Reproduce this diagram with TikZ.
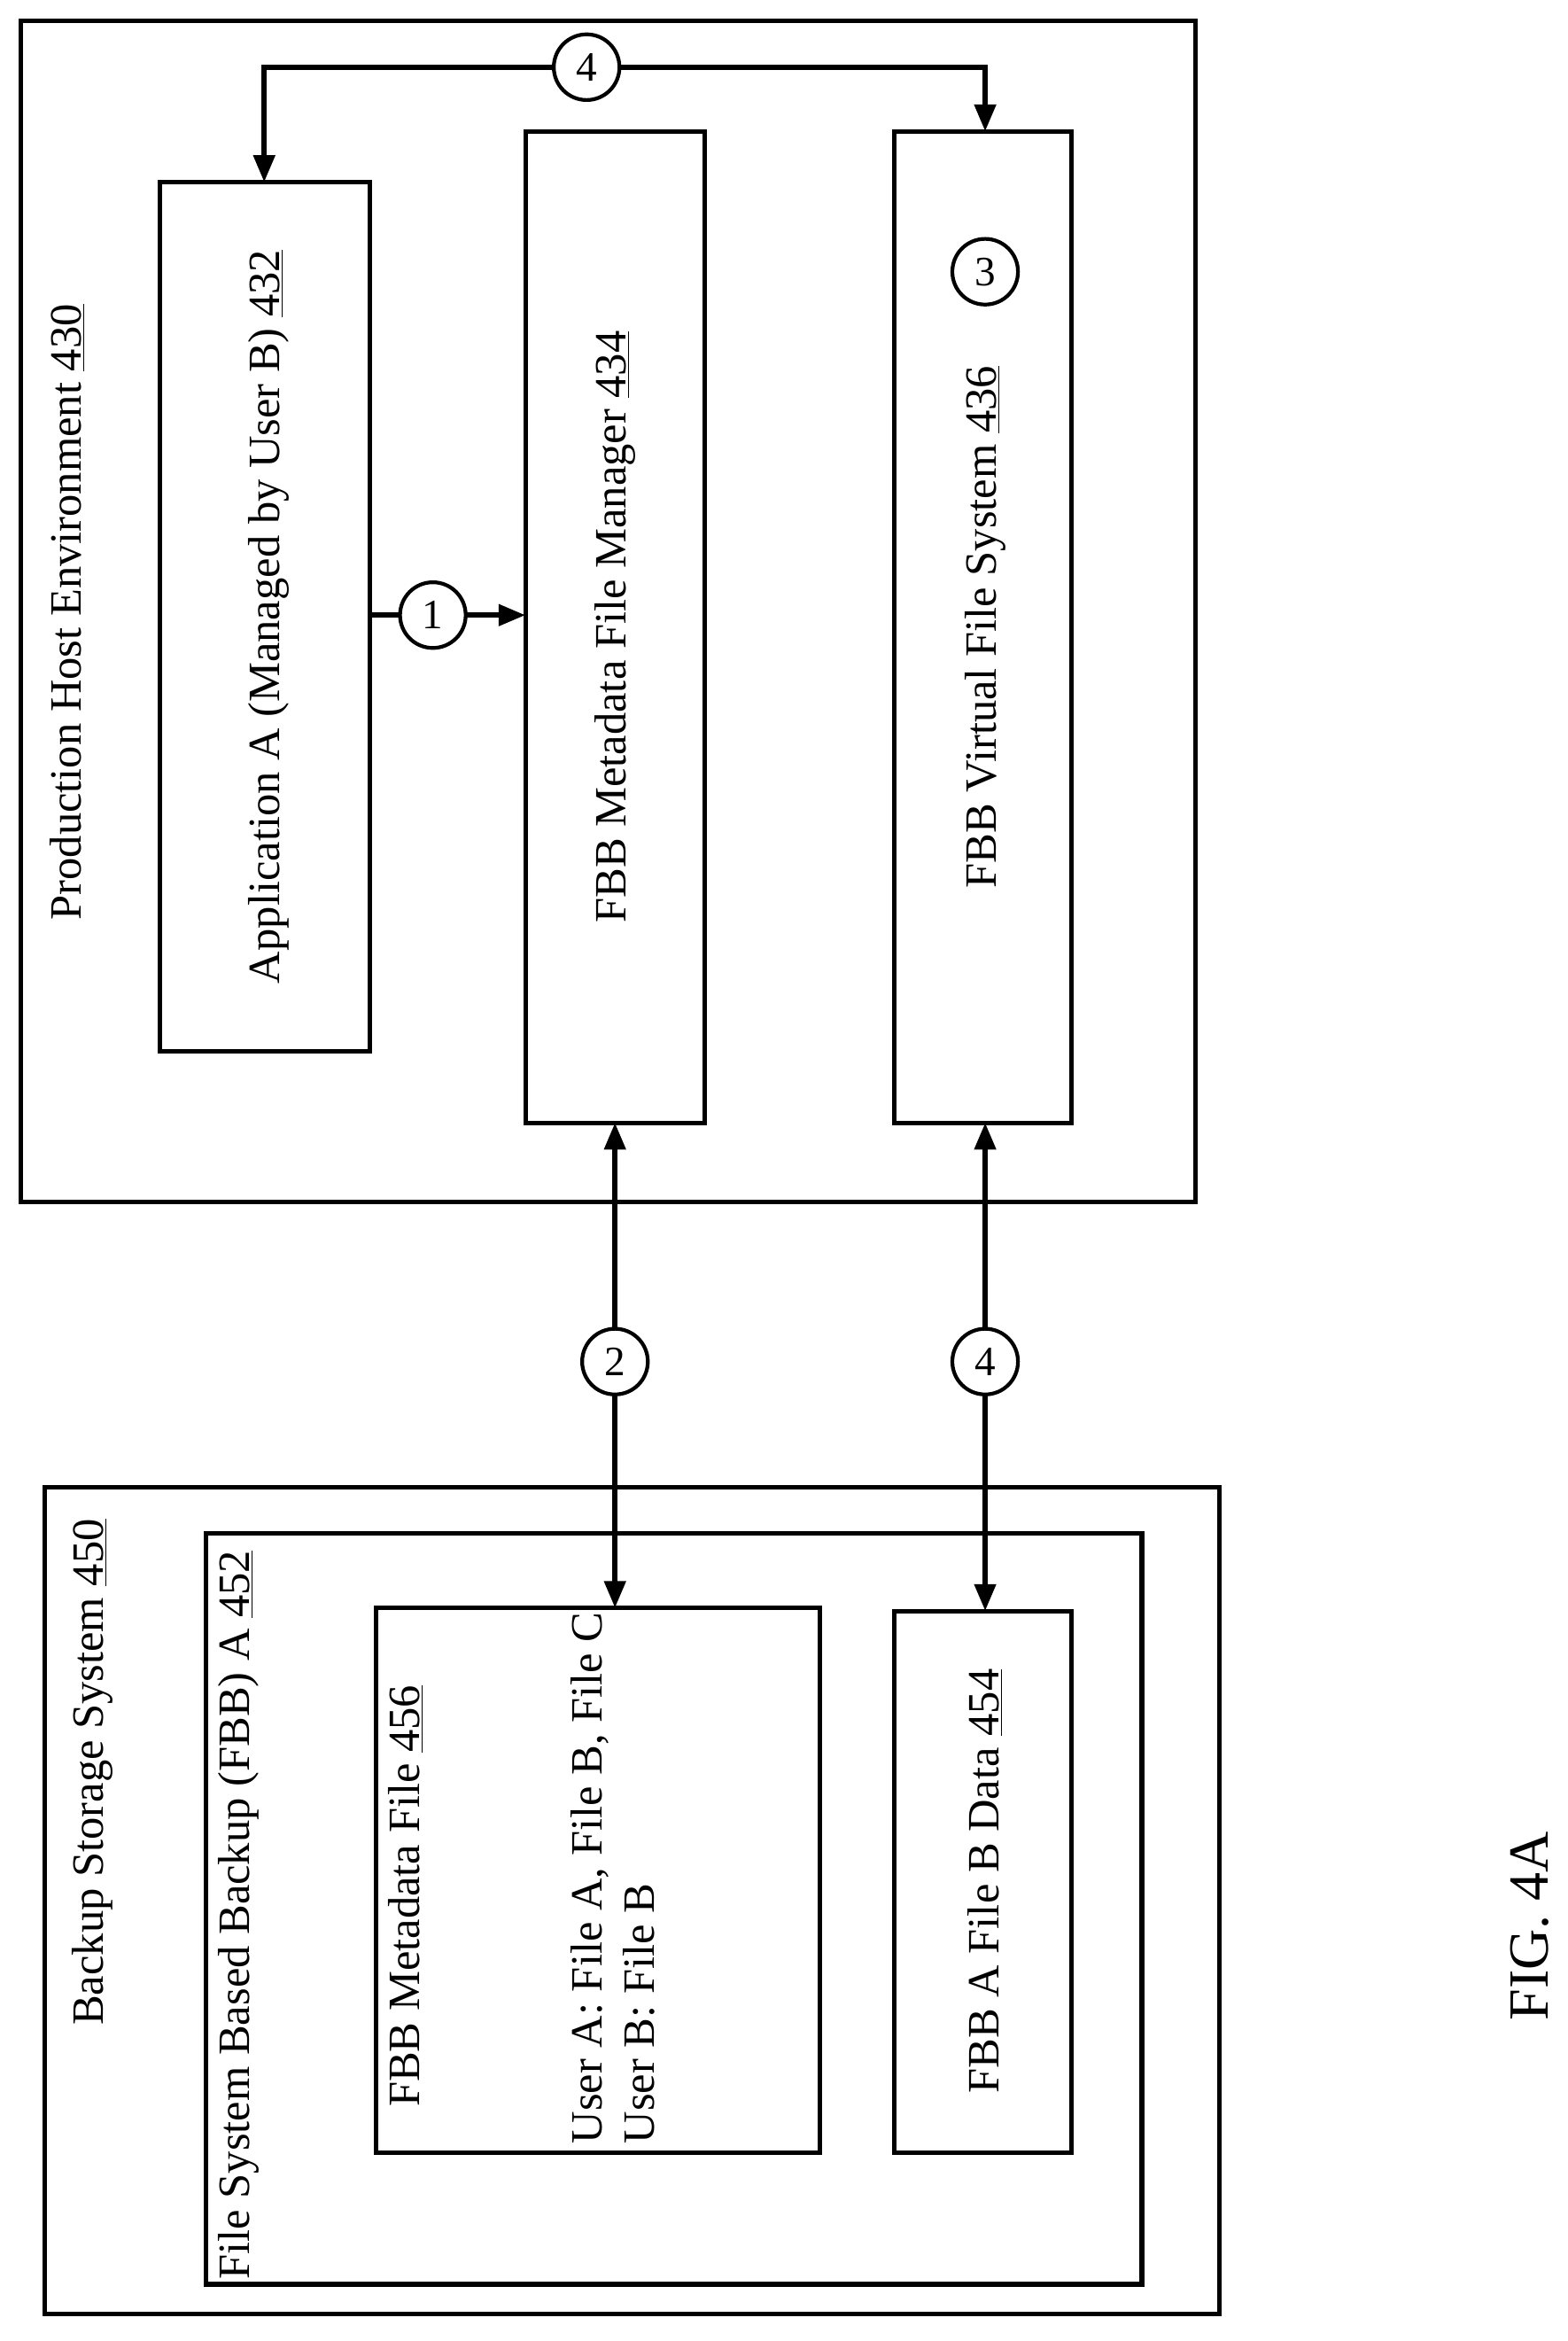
\documentclass[tikz,border=0pt]{standalone}
\usepackage{fontspec}
\setmainfont{Liberation Serif}
\usetikzlibrary{arrows.meta}
\begin{document}
\begin{tikzpicture}[x=1pt,y=-1pt,
 box/.style={draw,line width=3pt},
 lbl/.style={rotate=90,font=\fontsize{30}{35}\selectfont,inner sep=0},
 num/.style={circle,draw,line width=2.5pt,minimum size=44pt,inner sep=0,fill=white,font=\fontsize{28}{32}\selectfont},
 arr/.style={line width=3.5pt,-{Triangle[length=18pt,width=14pt]}},
 darr/.style={line width=3.5pt,{Triangle[length=18pt,width=14pt]}-{Triangle[length=18pt,width=14pt]}}]
\useasboundingbox (0,0) rectangle (1050,1568);
\draw[box] (14,14) rectangle (801,805);
\node[lbl] (p430) at (45,410) {Production Host Environment \underline{430}};
\draw[box] (107,122) rectangle (248,704);
\node[lbl] (a432) at (180,413) {Application A (Managed by User B) \underline{432}};
\draw[box] (352,88) rectangle (472,752);
\node[lbl] (m434) at (412,420) {FBB Metadata File Manager \underline{434}};
\draw[box] (599,88) rectangle (718,752);
\node[lbl] (v436) at (660,420) {FBB Virtual File System \underline{436}};
\node[num] (c3) at (660,182) {3};
\coordinate (ta) at (177,122); \coordinate (tv) at (660,88);
\draw[darr] (ta) -- (177,45) -- (660,45) -- (tv);
\node[num] (c4a) at (393,45) {4};
\coordinate (a1) at (248,412); \coordinate (m1) at (352,412);
\draw[arr] (a1) -- (m1);
\node[num] (c1) at (290,412) {1};
\draw[box] (30,996) rectangle (817,1550);
\node[lbl] (b450) at (62,1187) {Backup Storage System \underline{450}};
\draw[box] (138,1027) rectangle (765,1530);
\node[lbl,anchor=west] (f452) at (160,1527) {File System Based Backup (FBB) A \underline{452}};
\draw[box] (252,1077) rectangle (549,1442);
\node[lbl] (f456) at (272,1270) {FBB Metadata File \underline{456}};
\node[lbl,anchor=north west,align=left] (users) at (382,1436) {User A: File A, File B, File C\\User B: File B};
\draw[box] (599,1079) rectangle (718,1442);
\node[lbl] (d454) at (660,1260) {FBB A File B Data \underline{454}};
\coordinate (m2) at (412,752); \coordinate (f2) at (412,1077);
\draw[darr] (m2) -- (f2);
\node[num] (c2) at (412,912) {2};
\coordinate (v2) at (660,752); \coordinate (d2) at (660,1079);
\draw[darr] (v2) -- (d2);
\node[num] (c4b) at (660,912) {4};
\node[lbl,font=\fontsize{38}{42}\selectfont] (fig) at (1025,1290) {FIG. 4A};
\end{tikzpicture}
\end{document}
